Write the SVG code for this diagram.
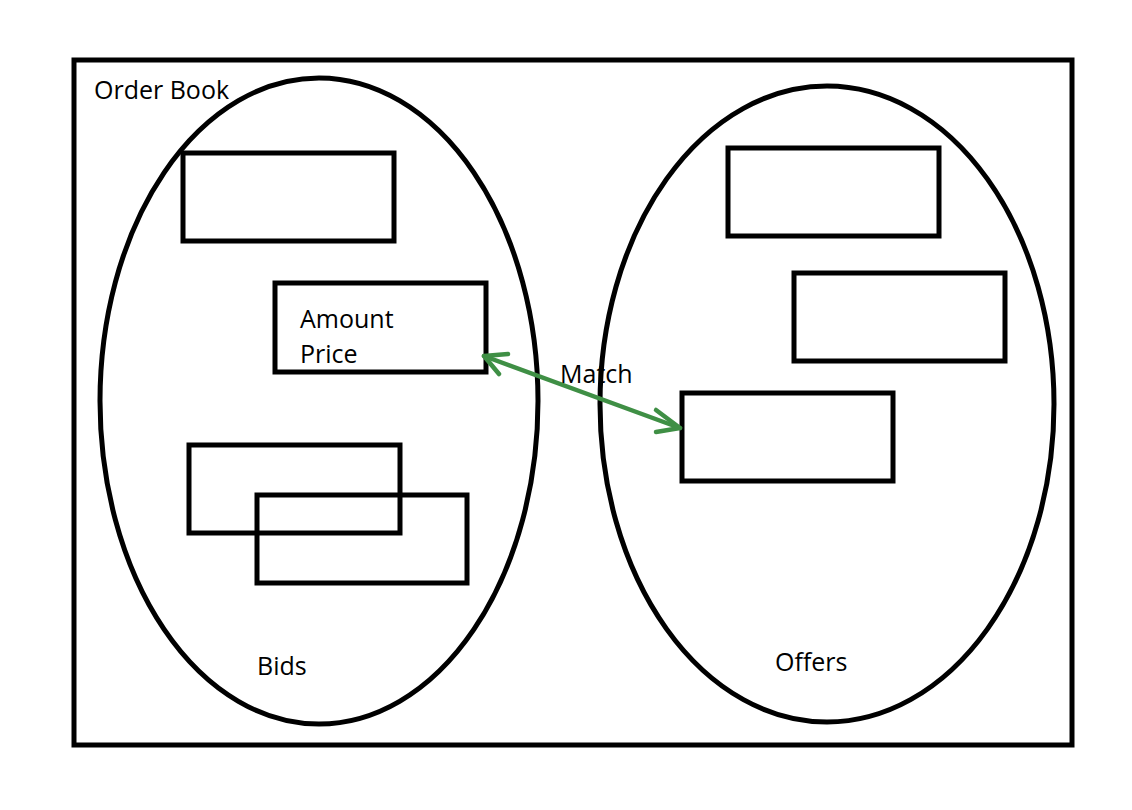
<svg xmlns="http://www.w3.org/2000/svg" width="1132" height="810" viewBox="0 0 1132 810">
<defs>
<style>
.b{fill:none;stroke:#000;stroke-width:5}
.t{font-family:"Open Sans","Liberation Sans",sans-serif;font-size:25px;fill:#000}
.a{fill:none;stroke:#3f8f45;stroke-width:4.5;stroke-linecap:round;stroke-linejoin:round}
</style>
</defs>
<rect width="1132" height="810" fill="#fff"/>
<g id="orderbook">
<rect class="b" x="74" y="60" width="998" height="685"/>
<text class="t" x="94" y="99">Order Book</text>
</g>
<g id="bids">
<ellipse class="b" cx="319" cy="401" rx="219" ry="323"/>
<text class="t" x="257" y="675">Bids</text>
</g>
<g id="offers">
<ellipse class="b" cx="827" cy="404" rx="227" ry="318"/>
<text class="t" x="775" y="671">Offers</text>
</g>
<g id="bid1"><rect class="b" x="183" y="153" width="211" height="88"/></g>
<g id="bid2"><rect class="b" x="275" y="283" width="211" height="89"/>
<text class="t" x="300" y="328">Amount</text>
<text class="t" x="300" y="363">Price</text></g>
<g id="bid3"><rect class="b" x="189" y="445" width="211" height="88"/></g>
<g id="bid4"><rect class="b" x="257" y="495" width="210" height="88"/></g>
<g id="offer1"><rect class="b" x="728" y="148" width="211" height="88"/></g>
<g id="offer2"><rect class="b" x="794" y="273" width="211" height="88"/></g>
<g id="offer3"><rect class="b" x="682" y="393" width="211" height="88"/></g>
<g id="connectors">
<line class="a" x1="484" y1="356" x2="680" y2="428"/>
<polyline class="a" points="508,354 484,356 499,374"/>
<polyline class="a" points="656,410 680,428 656,432"/>
<text class="t" x="560" y="383">Match</text>
</g>
</svg>
